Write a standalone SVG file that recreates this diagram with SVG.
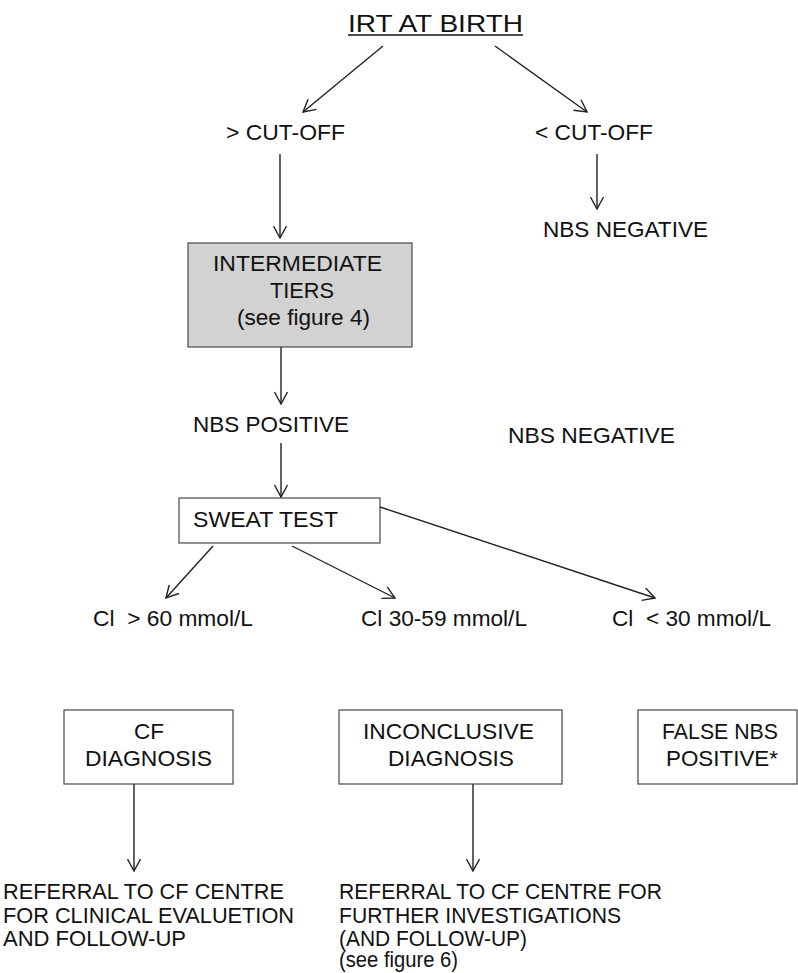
<svg xmlns="http://www.w3.org/2000/svg" width="798" height="973" viewBox="0 0 798 973">
<style>
text{font-family:"Liberation Sans",Arial,sans-serif;font-size:22.5px;fill:#111;white-space:pre}
.t{font-size:24px}
.box{fill:#fff;stroke:#555;stroke-width:1.3}
.grey{fill:#d2d2d2;stroke:#555;stroke-width:1.3}
.con line{stroke:#222;stroke-width:1.4;marker-end:url(#ah)}
</style>
<defs>
<marker id="ah" viewBox="0 0 14 14" refX="13" refY="7" markerWidth="14" markerHeight="14" markerUnits="userSpaceOnUse" orient="auto">
<path d="M1,0.5 L13,7 L1,13.5" fill="none" stroke="#222" stroke-width="1.4"/>
</marker>
</defs>
<rect width="798" height="973" fill="#fff"/>
<g id="title"><text class="t" x="348" y="32" textLength="175" lengthAdjust="spacingAndGlyphs">IRT AT BIRTH</text><line x1="348" y1="35" x2="523" y2="35" stroke="#111" stroke-width="1.6"/></g>
<g id="above"><text x="226" y="140" textLength="119" lengthAdjust="spacingAndGlyphs">&gt; CUT-OFF</text></g>
<g id="below"><text x="535" y="140" textLength="118" lengthAdjust="spacingAndGlyphs">&lt; CUT-OFF</text></g>
<g id="neg1"><text x="543" y="237" textLength="165" lengthAdjust="spacingAndGlyphs">NBS NEGATIVE</text></g>
<g id="tiers"><rect class="grey" x="188" y="243" width="224" height="104"/>
<text x="213" y="271" textLength="169" lengthAdjust="spacingAndGlyphs">INTERMEDIATE</text><text x="270" y="298" textLength="64" lengthAdjust="spacingAndGlyphs">TIERS</text><text x="237" y="325" textLength="133" lengthAdjust="spacingAndGlyphs">(see figure 4)</text></g>
<g id="pos"><text x="193" y="432" textLength="156" lengthAdjust="spacingAndGlyphs">NBS POSITIVE</text></g>
<g id="neg2"><text x="508" y="443" textLength="167" lengthAdjust="spacingAndGlyphs">NBS NEGATIVE</text></g>
<g id="sweat"><rect class="box" x="179" y="498" width="201" height="45"/><text x="193" y="527" textLength="145" lengthAdjust="spacingAndGlyphs">SWEAT TEST</text></g>
<g id="cl60"><text x="93" y="626" textLength="160" lengthAdjust="spacingAndGlyphs">Cl  &gt; 60 mmol/L</text></g>
<g id="cl3059"><text x="361" y="626" textLength="166" lengthAdjust="spacingAndGlyphs">Cl 30-59 mmol/L</text></g>
<g id="cl30"><text x="612" y="626" textLength="159" lengthAdjust="spacingAndGlyphs">Cl  &lt; 30 mmol/L</text></g>
<g id="cf"><rect class="box" x="64" y="710" width="169" height="74"/><text x="134" y="739" textLength="30" lengthAdjust="spacingAndGlyphs">CF</text><text x="85" y="766" textLength="127" lengthAdjust="spacingAndGlyphs">DIAGNOSIS</text></g>
<g id="inc"><rect class="box" x="339" y="710" width="223" height="74"/><text x="363" y="739" textLength="171" lengthAdjust="spacingAndGlyphs">INCONCLUSIVE</text><text x="388" y="766" textLength="126" lengthAdjust="spacingAndGlyphs">DIAGNOSIS</text></g>
<g id="false"><rect class="box" x="638" y="710" width="159" height="74"/><text x="662" y="739" textLength="116" lengthAdjust="spacingAndGlyphs">FALSE NBS</text><text x="666" y="766" textLength="112" lengthAdjust="spacingAndGlyphs">POSITIVE*</text></g>
<g id="ref1"><text x="3" y="899" textLength="281" lengthAdjust="spacingAndGlyphs">REFERRAL TO CF CENTRE</text><text x="3" y="923" textLength="291" lengthAdjust="spacingAndGlyphs">FOR CLINICAL EVALUETION</text><text x="3" y="946" textLength="183" lengthAdjust="spacingAndGlyphs">AND FOLLOW-UP</text></g>
<g id="ref2"><text x="339" y="899" textLength="323" lengthAdjust="spacingAndGlyphs">REFERRAL TO CF CENTRE FOR</text><text x="339" y="923" textLength="282" lengthAdjust="spacingAndGlyphs">FURTHER INVESTIGATIONS</text><text x="339" y="946" textLength="188" lengthAdjust="spacingAndGlyphs">(AND FOLLOW-UP)</text><text x="339" y="967" textLength="119" lengthAdjust="spacingAndGlyphs" style="font-size:21.5px">(see figure 6)</text></g>
<g id="connectors" class="con">
<line x1="383" y1="46" x2="303" y2="112"/>
<line x1="495" y1="46" x2="587" y2="112"/>
<line x1="280" y1="154" x2="280" y2="238"/>
<line x1="597" y1="154" x2="597" y2="209"/>
<line x1="281" y1="347" x2="281" y2="404"/>
<line x1="281" y1="443" x2="281" y2="497"/>
<line x1="213" y1="546" x2="166" y2="598"/>
<line x1="292" y1="546" x2="395" y2="598"/>
<line x1="380" y1="507" x2="655" y2="598"/>
<line x1="134" y1="784" x2="134" y2="871"/>
<line x1="473" y1="784" x2="473" y2="871"/>
</g>
</svg>
